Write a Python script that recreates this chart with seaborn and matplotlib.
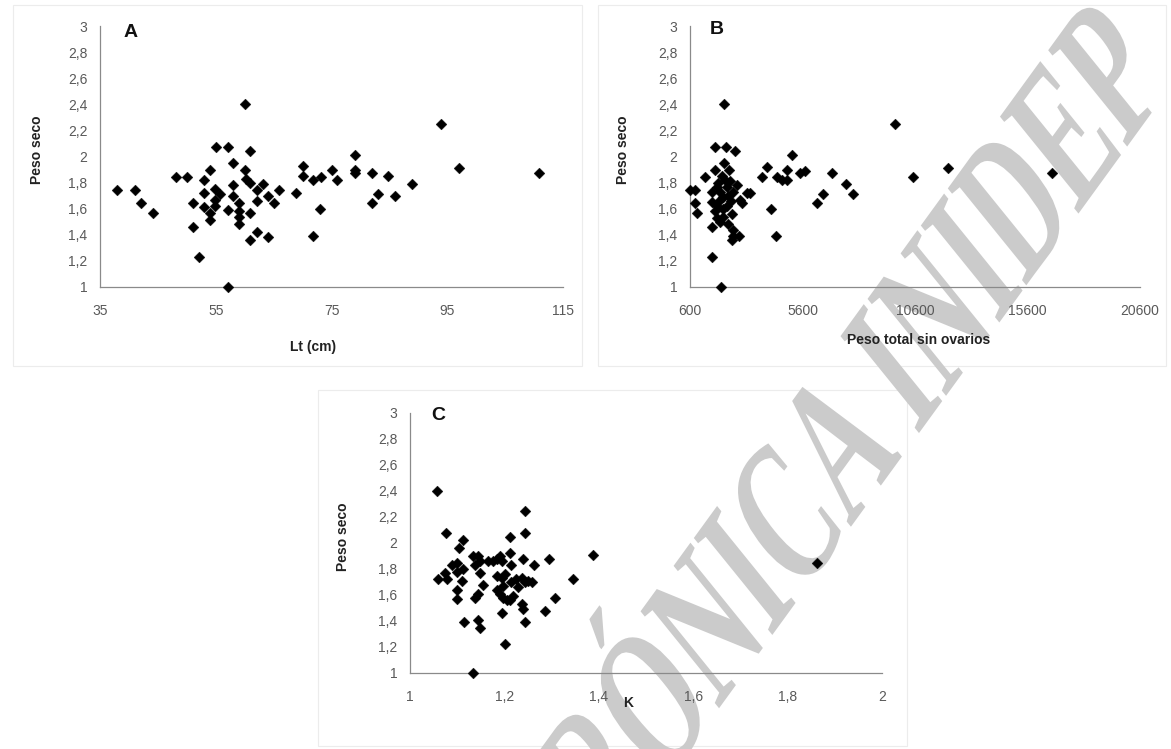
import matplotlib
matplotlib.use("Agg")
import matplotlib.pyplot as plt
import seaborn as sns
import pandas as pd
from matplotlib.ticker import FuncFormatter
from matplotlib.patches import Rectangle, PathPatch
from matplotlib.textpath import TextPath
from matplotlib.font_manager import FontProperties
from matplotlib.transforms import Affine2D

# panel A: Lt (cm) vs peso seco
lt_a = [37.9, 41.0, 42.1, 44.1, 48.1, 50.0, 51.0, 51.0, 52.1, 53.0, 54.0, 53.0, 53.0,
        54.0, 54.0, 54.9, 54.9, 54.9, 55.7, 55.0, 57.1, 57.1, 57.1, 58.0, 58.0, 58.0,
        59.0, 59.0, 59.0, 59.0, 60.0, 60.0, 60.3, 61.0, 61.0, 61.0, 61.0, 62.1, 62.1,
        62.1, 63.1, 64.0, 65.0, 64.0, 65.9, 68.9, 70.0, 70.0, 71.8, 73.2, 73.0, 71.8,
        75.1, 75.9, 79.0, 79.0, 79.0, 82.0, 82.0, 83.0, 84.7, 85.9, 88.9, 93.9, 97.0,
        110.8]
seco_a = [1.74, 1.74, 1.64, 1.57, 1.84, 1.84, 1.64, 1.46, 1.23, 1.82, 1.90, 1.72, 1.61,
          1.57, 1.51, 1.75, 1.67, 1.62, 1.71, 2.07, 2.07, 1.59, 1.00, 1.95, 1.78, 1.70,
          1.64, 1.58, 1.54, 1.48, 2.40, 1.90, 1.83, 2.04, 1.80, 1.57, 1.36, 1.74, 1.66,
          1.42, 1.79, 1.70, 1.64, 1.38, 1.74, 1.72, 1.93, 1.85, 1.82, 1.84, 1.60, 1.39,
          1.90, 1.82, 2.01, 1.90, 1.87, 1.87, 1.64, 1.71, 1.85, 1.70, 1.79, 2.25, 1.91,
          1.87]

# panel B: peso total sin ovarios vs peso seco
peso_b = [600, 822, 822, 896, 1267, 1563, 1563, 1711, 1711, 2185, 2111, 2111, 2348, 2600,
          1963, 1563, 1785, 1933, 1563, 1785, 1933, 2081, 2230, 2378, 2526, 2674, 2822,
          2230, 2452, 2081, 1785, 1933, 2304, 2526, 2526, 2793, 2452, 2896, 3119, 3267,
          2000, 1850, 2150, 2300, 1700, 2050, 2400,
          3800, 4022, 4200, 4422, 4467, 4689, 4911, 4911, 5133, 5467, 5689, 6244, 6511,
          6911, 7533, 7844, 9733, 10511, 12067, 16689]
seco_b = [1.74, 1.74, 1.64, 1.57, 1.84, 1.23, 1.46, 1.90, 2.07, 2.07, 2.40, 1.95, 1.90, 2.04,
          1.00, 1.73, 1.77, 1.73, 1.65, 1.62, 1.67, 1.69, 1.77, 1.81, 1.73, 1.78, 1.67,
          1.62, 1.56, 1.54, 1.53, 1.50, 1.48, 1.44, 1.39, 1.39, 1.36, 1.64, 1.72, 1.72,
          1.85, 1.80, 1.82, 1.70, 1.58, 1.60, 1.66,
          1.84, 1.92, 1.60, 1.39, 1.84, 1.82, 1.82, 1.90, 2.01, 1.87, 1.89, 1.64, 1.71,
          1.87, 1.79, 1.71, 2.25, 1.84, 1.91, 1.87]

# panel C: K vs peso seco
k_c = [1.057, 1.076, 1.113, 1.104, 1.060, 1.074, 1.079, 1.088, 1.099, 1.099, 1.110, 1.099,
       1.099, 1.113, 1.115, 1.134, 1.145, 1.137, 1.148, 1.148, 1.155, 1.137, 1.145, 1.145,
       1.148, 1.134, 1.166, 1.176, 1.184, 1.191, 1.194, 1.184, 1.194, 1.201, 1.184, 1.191,
       1.198, 1.198, 1.205, 1.194, 1.201, 1.212, 1.212, 1.215, 1.215, 1.219, 1.212, 1.244,
       1.244, 1.240, 1.237, 1.244, 1.251, 1.258, 1.237, 1.240, 1.244, 1.263, 1.295, 1.286,
       1.307, 1.346, 1.388, 1.863, 1.225, 1.228]
seco_c = [2.40, 2.08, 2.02, 1.96, 1.72, 1.77, 1.72, 1.83, 1.85, 1.78, 1.71, 1.64,
          1.57, 1.80, 1.39, 1.90, 1.90, 1.83, 1.86, 1.77, 1.68, 1.58, 1.61, 1.41,
          1.35, 1.00, 1.86, 1.86, 1.88, 1.90, 1.86, 1.75, 1.73, 1.76, 1.64, 1.61,
          1.67, 1.58, 1.56, 1.46, 1.22, 1.92, 2.05, 1.83, 1.70, 1.59, 1.56, 2.25,
          2.08, 1.88, 1.73, 1.70, 1.71, 1.70, 1.53, 1.49, 1.39, 1.83, 1.88, 1.48,
          1.58, 1.72, 1.91, 1.85, 1.72, 1.66]

y_ticks = [1, 1.2, 1.4, 1.6, 1.8, 2, 2.2, 2.4, 2.6, 2.8, 3]
x_ticks_a = [35, 55, 75, 95, 115]
x_ticks_b = [600, 5600, 10600, 15600, 20600]
x_ticks_c = [1, 1.2, 1.4, 1.6, 1.8, 2]

watermark = "VERSIÓN ELECTRÓNICA INIDEP"

sns.set_theme(style="white")
plt.rcParams["font.family"] = ["Liberation Sans", "DejaVu Sans"]

fig = plt.figure(figsize=(11.71, 7.49), dpi=100)
W, H = 1171, 749


def px_axes(left, top, right, bottom):
    return fig.add_axes([left / W, 1 - bottom / H, (right - left) / W, (bottom - top) / H])


comma = FuncFormatter(lambda v, p: f"{v:g}".replace(".", ","))

# faint chart-area frames
for (x0, y0, x1, y1) in [(13, 5, 582, 366), (598, 5, 1166, 366), (318, 390, 907, 746)]:
    fig.patches.append(Rectangle((x0 / W, 1 - y1 / H), (x1 - x0) / W, (y1 - y0) / H,
                                 transform=fig.transFigure, fill=False,
                                 edgecolor="#ececec", linewidth=0.8, zorder=-3))

# watermark: tall, slanted serif letters running diagonally
fp = FontProperties(family="Liberation Serif", weight="bold")
tp = TextPath((0, 0), watermark, size=1, prop=fp)
o_end = TextPath((0, 0), "VERSIÓN ELECTRÓ", size=1, prop=fp).get_extents().x1
o_w = TextPath((0, 0), "O", size=1, prop=fp).get_extents().width
wm = Affine2D().scale(123, 184).skew_deg(15, 0).rotate_deg(54)
ox, oy = wm.transform((o_end - o_w / 2, 0.33))
wm = wm.translate(650 - ox, (H - 700) - oy)
fig.patches.append(PathPatch(tp, transform=wm, facecolor="#cbcbcb", edgecolor="none",
                             zorder=-2))

panels = [
    ("A", lt_a, seco_a, (100, 26, 563, 287), (35, 115), x_ticks_a, "Lt (cm)",
     (0.46, -0.23), (-0.136, 0.525), (0.065, 0.975)),
    ("B", peso_b, seco_b, (690, 26, 1140, 287), (600, 20600), x_ticks_b,
     "Peso total sin ovarios", (0.509, -0.203), (-0.149, 0.525), (0.06, 0.985)),
    ("C", k_c, seco_c, (410, 413, 882, 673), (1, 2), x_ticks_c, "K",
     (0.462, -0.115), (-0.142, 0.523), (0.059, 0.99)),
]

for letter, xs, ys, box, xlim, xt, xlabel, xl_pos, yl_pos, let_pos in panels:
    ax = px_axes(*box)
    ax.set_facecolor("none")
    df = pd.DataFrame({"x": xs, "y": ys})
    sns.scatterplot(data=df, x="x", y="y", marker="D", s=30, color="black",
                    edgecolor="black", linewidth=0.3, ax=ax, clip_on=False, zorder=3)
    ax.set_xlim(*xlim)
    ax.set_ylim(1, 3)
    ax.set_xticks(xt)
    ax.set_yticks(y_ticks)
    ax.xaxis.set_major_formatter(comma)
    ax.yaxis.set_major_formatter(comma)
    for s in ["top", "right"]:
        ax.spines[s].set_visible(False)
    for s in ["left", "bottom"]:
        ax.spines[s].set_color("#8a8a8a")
        ax.spines[s].set_linewidth(0.9)
    ax.tick_params(axis="both", direction="out", length=4, width=0.8, color="#8a8a8a",
                   labelcolor="#595959", labelsize=10, pad=5)
    ax.tick_params(axis="x", pad=8)
    ax.set_xlabel(xlabel, fontsize=10, fontweight="bold", color="#222222")
    ax.set_ylabel("Peso seco", fontsize=10, fontweight="bold", color="#222222")
    ax.xaxis.set_label_coords(*xl_pos)
    ax.xaxis.label.set_va("center")
    ax.yaxis.set_label_coords(*yl_pos)
    ax.yaxis.label.set_va("center")
    ax.text(let_pos[0], let_pos[1], letter, transform=ax.transAxes, fontsize=14,
            fontweight="bold", color="#111111", ha="center", va="center")

fig.savefig("out.png", dpi=100)
